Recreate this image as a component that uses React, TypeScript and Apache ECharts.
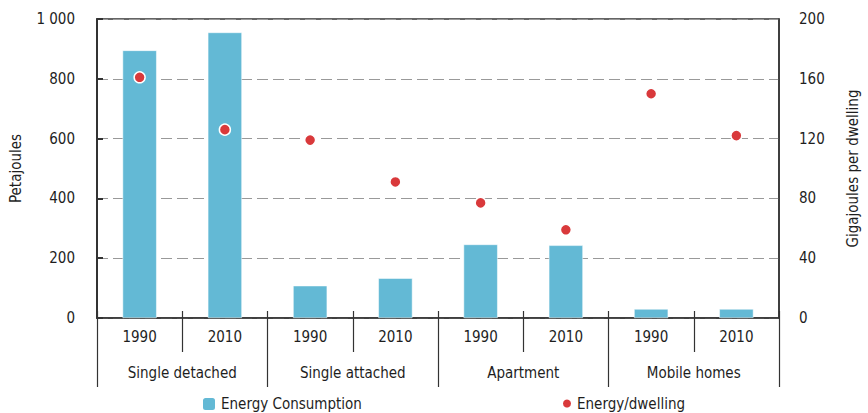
import React, { useEffect, useRef } from "react";
import * as echarts from "echarts";

const years = ["1990", "2010", "1990", "2010", "1990", "2010", "1990", "2010"];
const groups = ["Single detached", "Single attached", "Apartment", "Mobile homes"];
const energyConsumption = [895, 955, 108, 133, 246, 243, 30, 30];
const energyPerDwelling = [161, 126, 119, 91, 77, 59, 150, 122];

const FONT = "'DejaVu Sans Condensed', 'Liberation Sans Narrow', sans-serif";
const TXT = "#1e1e1e";

export default function App() {
  const ref = useRef<HTMLDivElement>(null);
  useEffect(() => {
    if (!ref.current) return;
    const chart = echarts.init(ref.current, undefined, { renderer: "svg" });
    chart.setOption({
      animation: false,
      textStyle: { fontFamily: FONT, color: TXT },
      grid: {
        left: 96,
        right: 83,
        top: 19,
        bottom: 95,
        show: true,
        borderColor: "#333",
        borderWidth: 1.5,
      },
      legend: [
        {
          left: 196,
          top: 391,
          data: ["Energy Consumption"],
          itemWidth: 14,
          itemHeight: 14,
          textStyle: { fontFamily: FONT, fontSize: 15, color: TXT },
        },
        {
          left: 556,
          top: 391,
          data: ["Energy/dwelling"],
          itemWidth: 10,
          itemHeight: 10,
          textStyle: { fontFamily: FONT, fontSize: 15, color: TXT },
        },
      ],
      xAxis: [
        {
          type: "category",
          data: years,
          position: "bottom",
          axisLine: { lineStyle: { color: "#333", width: 1.5 } },
          axisTick: { show: true, length: 34, lineStyle: { color: "#333", width: 1.2 } },
          axisLabel: { fontFamily: FONT, fontSize: 15, color: TXT, margin: 11, interval: 0 },
        },
        {
          type: "category",
          data: years,
          position: "bottom",
          axisLine: { show: false },
          axisTick: { show: true, inside: true, length: 7, lineStyle: { color: "#333", width: 1.2 } },
          axisLabel: { show: false },
        },
        {
          type: "category",
          data: groups,
          position: "bottom",
          offset: 34,
          axisLine: { show: false },
          axisTick: { show: true, length: 35, interval: 0, lineStyle: { color: "#333", width: 1.2 } },
          axisLabel: { fontFamily: FONT, fontSize: 15, color: TXT, margin: 13, interval: 0 },
        },
      ],
      yAxis: [
        {
          type: "value",
          min: 0,
          max: 1000,
          interval: 200,
          name: "Petajoules",
          nameLocation: "middle",
          nameGap: 74,
          nameRotate: 90,
          nameTextStyle: { fontFamily: FONT, fontSize: 15, color: TXT },
          axisLine: { show: true, lineStyle: { color: "#333", width: 2 } },
          axisTick: { show: true, inside: true, length: 6, lineStyle: { color: "#333", width: 2 } },
          axisLabel: {
            fontFamily: FONT,
            fontSize: 15,
            color: TXT,
            margin: 22,
            formatter: (v: number) => (v === 1000 ? "1 000" : String(v)),
          },
          splitLine: { show: true, lineStyle: { color: "#999", type: [11, 5], width: 1.2 } },
        },
        {
          type: "value",
          min: 0,
          max: 200,
          interval: 40,
          name: "Gigajoules per dwelling",
          nameLocation: "middle",
          nameGap: 66,
          nameRotate: 90,
          nameTextStyle: { fontFamily: FONT, fontSize: 15, color: TXT },
          axisLine: { show: true, lineStyle: { color: "#333", width: 1.5 } },
          axisTick: { show: false },
          axisLabel: { fontFamily: FONT, fontSize: 15, color: TXT, margin: 20 },
          splitLine: { show: false },
        },
      ],
      series: [
        {
          name: "Energy Consumption",
          type: "bar",
          xAxisIndex: 0,
          yAxisIndex: 0,
          data: energyConsumption,
          barWidth: "40%",
          itemStyle: { color: "#63b9d5", borderColor: "#ffffff", borderWidth: 0.5 },
        },
        {
          name: "Energy/dwelling",
          type: "scatter",
          xAxisIndex: 0,
          yAxisIndex: 1,
          data: energyPerDwelling,
          symbol: "circle",
          symbolSize: 11,
          itemStyle: { color: "#d9393b", opacity: 1, borderColor: "#ffffff", borderWidth: 1.5 },
          z: 5,
        },
      ],
    });
    return () => chart.dispose();
  }, []);
  return <div ref={ref} style={{ width: 868, height: 413, position: "absolute", left: 0, top: 0 }} />;
}
